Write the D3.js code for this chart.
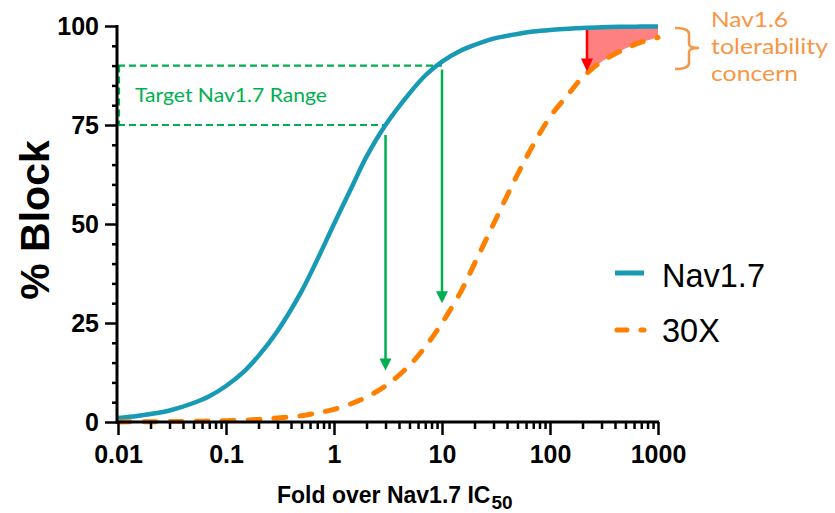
<!DOCTYPE html>
<html>
<head>
<meta charset="utf-8">
<script src="https://cdn.jsdelivr.net/npm/d3@7"></script>
<style>
  body { margin: 0; background: #fff; }
  svg { display: block; }
</style>
</head>
<body>
<script>
// fold over Nav1.7 IC50 (x) and % block
var folds = [0.01,0.015,0.02,0.03,0.05,0.07,0.1,0.15,0.2,0.3,0.5,0.7,1,1.5,2,3,5,7,10,15,20,30,50,70,100,150,200,300,500,700,1000];
var nav17 = [1,1.5,2,2.9,4.8,6.5,9.1,13,16.7,23,33,41,50,60,67,75,83,87.5,91,93.8,95.2,96.8,98,98.6,99,99.3,99.5,99.7,99.8,99.85,99.9];
var x30   = [0.03,0.05,0.07,0.1,0.17,0.23,0.33,0.5,0.66,1,1.6,2.3,3.2,4.8,6.3,9.1,14.3,19,25,33,40,50,62.5,70,77,83,87,91,94.3,95.9,97.1];

var seriesNames = ["Nav1.7", "30X"];
var xTicks = [0.01, 0.1, 1, 10, 100, 1000];
var xTickLabels = ["0.01", "0.1", "1", "10", "100", "1000"];
var yTicks = [0, 25, 50, 75, 100];

// annotations
var targetRange = [75, 90];      // % block
var targetFolds = [3, 10];       // where the range hits Nav1.7
var arrowTips = [13, 30];        // where green arrows end
var concernFold = 220;           // start of the red area
var concernLines = ["Nav1.6", "tolerability", "concern"];

var W = 835, H = 513;
var blue = "#1899b4", orange = "#ff8000", green = "#00b050", note = "#f79646";

var svg = d3.select("body").append("svg")
            .attr("width", W)
            .attr("height", H);

var defs = svg.append("defs");

var x = d3.scaleLog().domain([0.01, 1000]).range([118, 658]);
var y = d3.scaleLinear().domain([0, 100]).range([422, 26]);

var minorX = [];
xTicks.slice(0, -1).forEach(function(d){
  for (var k = 2; k <= 9; k++) minorX.push(d * k);
});
var minorY = d3.range(0, 101, 5).filter(function(d){ return d % 25 != 0; });

var rows = folds.map(function(d,i){ return {f: d, a: nav17[i], b: x30[i]}; });

// red concern area between curves
defs.append("clipPath").attr("id", "concernClip")
    .append("rect")
      .attr("x", x(concernFold))
      .attr("y", 0)
      .attr("width", x(1000) - x(concernFold))
      .attr("height", H);

svg.append("path")
   .datum(rows)
   .attr("clip-path", "url(#concernClip)")
   .attr("fill", "#ff8080")
   .attr("d", d3.area()
        .x(function(d){ return x(d.f); })
        .y0(function(d){ return y(d.b); })
        .y1(function(d){ return y(d.a); })
        .curve(d3.curveCatmullRom));

// green dashed target box
var gbox = svg.append("g")
              .attr("stroke", green)
              .attr("stroke-width", 2.2)
              .attr("stroke-dasharray", "7,4")
              .attr("fill", "none");
gbox.append("line")
    .attr("x1", x(0.01)).attr("x2", x(targetFolds[1]))
    .attr("y1", y(targetRange[1])).attr("y2", y(targetRange[1]));
gbox.append("line")
    .attr("x1", x(0.01)).attr("x2", x(targetFolds[0]))
    .attr("y1", y(targetRange[0])).attr("y2", y(targetRange[0]));
gbox.append("line")
    .attr("x1", x(0.01) + 1).attr("x2", x(0.01) + 1)
    .attr("y1", y(targetRange[1])).attr("y2", y(targetRange[0]));

svg.append("text")
   .attr("x", 135)
   .attr("y", 102)
   .attr("fill", green)
   .attr("font-family", "Lato, 'Open Sans', sans-serif")
   .attr("font-size", 19)
   .attr("textLength", 192)
   .attr("lengthAdjust", "spacingAndGlyphs")
   .text("Target Nav1.7 Range");

// arrows
function arrow(xp, y1, y2, color, w, hw, hh) {
  svg.append("line")
     .attr("x1", xp).attr("x2", xp)
     .attr("y1", y1).attr("y2", y2 - hh + 1)
     .attr("stroke", color)
     .attr("stroke-width", w);
  svg.append("path")
     .attr("d", "M" + (xp - hw) + "," + (y2 - hh) + "L" + (xp + hw) + "," + (y2 - hh) + "L" + xp + "," + y2 + "Z")
     .attr("fill", color);
}

arrow(x(targetFolds[0]), y(targetRange[0]) + 10, y(arrowTips[0]), green, 2.5, 6, 12);
arrow(x(targetFolds[1]), y(targetRange[1]) + 4, y(arrowTips[1]), green, 2.5, 6, 12);

// curves
var line = d3.line()
             .x(function(d){ return x(d.f); })
             .curve(d3.curveCatmullRom);

svg.append("path")
   .datum(rows)
   .attr("fill", "none")
   .attr("stroke", blue)
   .attr("stroke-width", 4.5)
   .attr("d", line.y(function(d){ return y(d.a); }));

svg.append("path")
   .datum(rows)
   .attr("fill", "none")
   .attr("stroke", orange)
   .attr("stroke-width", 5)
   .attr("stroke-linecap", "round")
   .attr("stroke-dasharray", "12,14")
   .attr("d", line.y(function(d){ return y(d.b); }));

// red arrow
arrow(x(concernFold), y(99.5) + 2, y(88) - 2, "#ff0000", 2.5, 6, 13);

// axes
function styleAxis(g) {
  g.select(".domain").remove();
  g.selectAll(".tick line").attr("stroke", "#000").attr("stroke-width", 2.5);
  g.selectAll(".tick text")
   .attr("font-family", "'Liberation Sans', Arial, sans-serif")
   .attr("font-weight", "bold")
   .attr("font-size", 25)
   .attr("fill", "#000");
}

svg.append("g")
   .attr("transform", "translate(0,422)")
   .call(d3.axisBottom(x).tickValues(minorX).tickSize(7).tickFormat(""))
   .call(styleAxis);

svg.append("g")
   .attr("transform", "translate(0,422)")
   .call(d3.axisBottom(x).tickValues(xTicks).tickSize(13).tickPadding(10)
          .tickFormat(function(d,i){ return xTickLabels[i]; }))
   .call(styleAxis);

svg.append("g")
   .attr("transform", "translate(117,0)")
   .call(d3.axisLeft(y).tickValues(minorY).tickSize(5).tickFormat(""))
   .call(styleAxis);

svg.append("g")
   .attr("transform", "translate(117,0)")
   .call(d3.axisLeft(y).tickValues(yTicks).tickSize(12).tickPadding(6))
   .call(styleAxis);

svg.append("line")
   .attr("x1", 117).attr("x2", 117)
   .attr("y1", y(100) - 1).attr("y2", y(0) + 1.5)
   .attr("stroke", "#000").attr("stroke-width", 3);
svg.append("line")
   .attr("x1", 117).attr("x2", x(1000) + 1)
   .attr("y1", 422).attr("y2", 422)
   .attr("stroke", "#000").attr("stroke-width", 3);

// axis titles
svg.append("text")
   .attr("transform", "translate(49,220) rotate(-90)")
   .attr("text-anchor", "middle")
   .attr("font-family", "'Liberation Sans', Arial, sans-serif")
   .attr("font-weight", "bold")
   .attr("font-size", 41)
   .text("% Block");

var xt = svg.append("text")
   .attr("x", 277)
   .attr("y", 503)
   .attr("font-family", "'Liberation Sans', Arial, sans-serif")
   .attr("font-weight", "bold")
   .attr("font-size", 23);
xt.append("tspan").text("Fold over Nav1.7 IC");
xt.append("tspan").attr("font-size", 19).attr("dy", 6).attr("dx", 1).text("50");

// legend
var legend = svg.append("g").attr("transform", "translate(615,0)");
legend.append("line")
      .attr("x1", 0).attr("x2", 29)
      .attr("y1", 273).attr("y2", 273)
      .attr("stroke", blue).attr("stroke-width", 5);
legend.append("line")
      .attr("x1", 2).attr("x2", 29)
      .attr("y1", 330).attr("y2", 330)
      .attr("stroke", orange).attr("stroke-width", 5)
      .attr("stroke-linecap", "round")
      .attr("stroke-dasharray", "10,14");
legend.selectAll("text")
      .data(seriesNames)
      .enter().append("text")
        .attr("x", 47)
        .attr("y", function(d,i){ return 287 + i*55; })
        .attr("font-family", "'Liberation Sans', Arial, sans-serif")
        .attr("font-size", 32.5)
        .text(function(d){ return d; });

// Nav1.6 note and bracket
svg.append("path")
   .attr("d", "M675,28 Q689,28 689,34 L689,44 Q689,48 699,48 Q689,48 689,52 L689,63 Q689,69 675,69")
   .attr("fill", "none")
   .attr("stroke", note)
   .attr("stroke-width", 2.5);

var noteWidths = [77, 117, 87];
svg.append("g").selectAll("text")
   .data(concernLines)
   .enter().append("text")
     .attr("x", 711)
     .attr("y", function(d,i){ return 27 + i*27; })
     .attr("fill", note)
     .attr("font-family", "Lato, 'Open Sans', sans-serif")
     .attr("font-size", 22)
     .attr("textLength", function(d,i){ return noteWidths[i]; })
     .attr("lengthAdjust", "spacingAndGlyphs")
     .text(function(d){ return d; });
</script>
</body>
</html>
